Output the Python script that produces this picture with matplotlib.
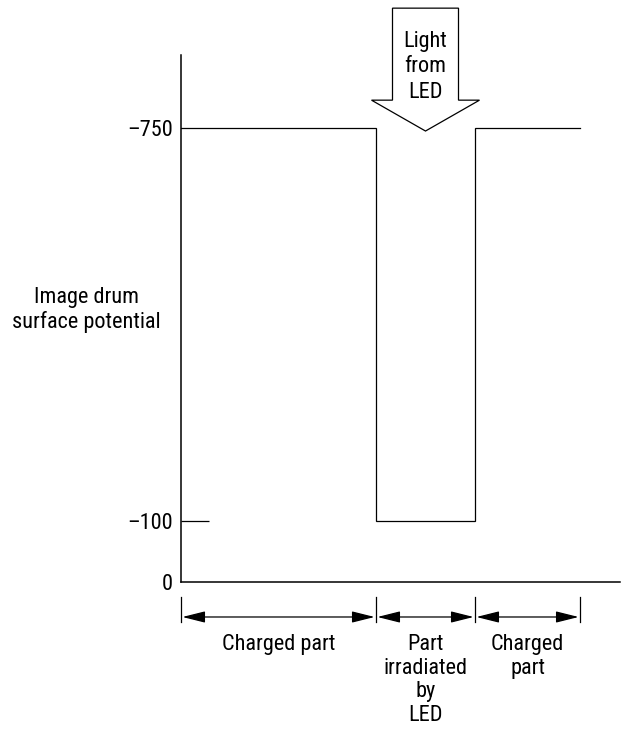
import matplotlib
matplotlib.use("Agg")
import matplotlib.pyplot as plt
from matplotlib.patches import Polygon
from matplotlib.font_manager import fontManager

# ---- data ----
segment_labels = ["Charged part", "Part\nirradiated\nby\nLED", "Charged\npart"]
segment_widths = [195, 99, 105]          # relative lengths along the drum
segment_potential = [-750, -100, -750]   # surface potential (V)
tick_values = [-750, -100, 0]
tick_labels = ["\u2013750", "\u2013100", "0"]

names = {f.name for f in fontManager.ttflist}
fam = ["Liberation Sans Narrow", "Roboto Condensed", "Archivo Narrow",
       "Liberation Sans", "DejaVu Sans"]
fam = [f for f in fam if f in names] or ["DejaVu Sans"]
plt.rcParams["font.family"] = fam
FS = 16

W, H = 623, 729
fig = plt.figure(figsize=(W / 100, H / 100), dpi=100)
ax = fig.add_axes([181 / W, 147 / H, (620 - 181) / W, (582 - 55) / H])

edges = [0]
for w in segment_widths:
    edges.append(edges[-1] + w)

xs, ys = [], []
for i, p in enumerate(segment_potential):
    xs += [edges[i], edges[i + 1]]
    ys += [-p, -p]
ax.plot(xs, ys, color="black", lw=0.9, solid_joinstyle="miter")

ax.set_xlim(0, 439)
ax.set_ylim(0, 870.6)
for s in ["top", "right"]:
    ax.spines[s].set_visible(False)
for s in ["left", "bottom"]:
    ax.spines[s].set_linewidth(1.1)
ax.xaxis.set_visible(False)
ax.set_yticks([-v for v in tick_values])
ax.set_yticklabels(tick_labels, fontsize=FS)
ax.tick_params(axis="y", direction="in", length=20, width=0.9, pad=6)
ticks = ax.yaxis.get_major_ticks()
for t in (ticks[0], ticks[2]):
    t.tick1line.set_visible(False)

ax.text(-17, 1.01, "(V)", transform=ax.get_yaxis_transform(), ha="right",
        va="center", fontsize=FS)
fig.text(86 / W, 1 - 310 / H, "Image drum\nsurface potential", ha="center",
         va="center", fontsize=FS, linespacing=1.2)

tr = ax.get_xaxis_transform()
for e in edges:
    ax.plot([e, e], [-0.0285, -0.0759], color="black", lw=0.9,
            transform=tr, clip_on=False)
for i in range(len(segment_widths)):
    ax.annotate("", xy=(edges[i + 1], -0.0664), xytext=(edges[i], -0.0664),
                xycoords=tr, textcoords=tr,
                arrowprops=dict(arrowstyle="<|-|>,head_length=1.0,head_width=0.25",
                                mutation_scale=14, shrinkA=1, shrinkB=1,
                                lw=0.9, color="black"))
    cx = (edges[i] + edges[i + 1]) / 2
    ax.text(cx, -0.098, segment_labels[i], transform=tr, ha="center",
            va="top", fontsize=FS, linespacing=1.18)

c = (edges[1] + edges[2]) / 2
sh, hw = 33, 54
top, shoulder, tip = 948, 796, 745
verts = [(c - sh, top), (c + sh, top), (c + sh, shoulder), (c + hw, shoulder),
         (c, tip), (c - hw, shoulder), (c - sh, shoulder)]
ax.add_patch(Polygon(verts, closed=True, fill=True, facecolor="white",
                     edgecolor="black", lw=0.9, clip_on=False, zorder=5))
ax.text(c, 851, "Light\nfrom\nLED", ha="center", va="center", fontsize=FS,
        linespacing=1.3, zorder=6)

fig.savefig("out.png", dpi=100)
